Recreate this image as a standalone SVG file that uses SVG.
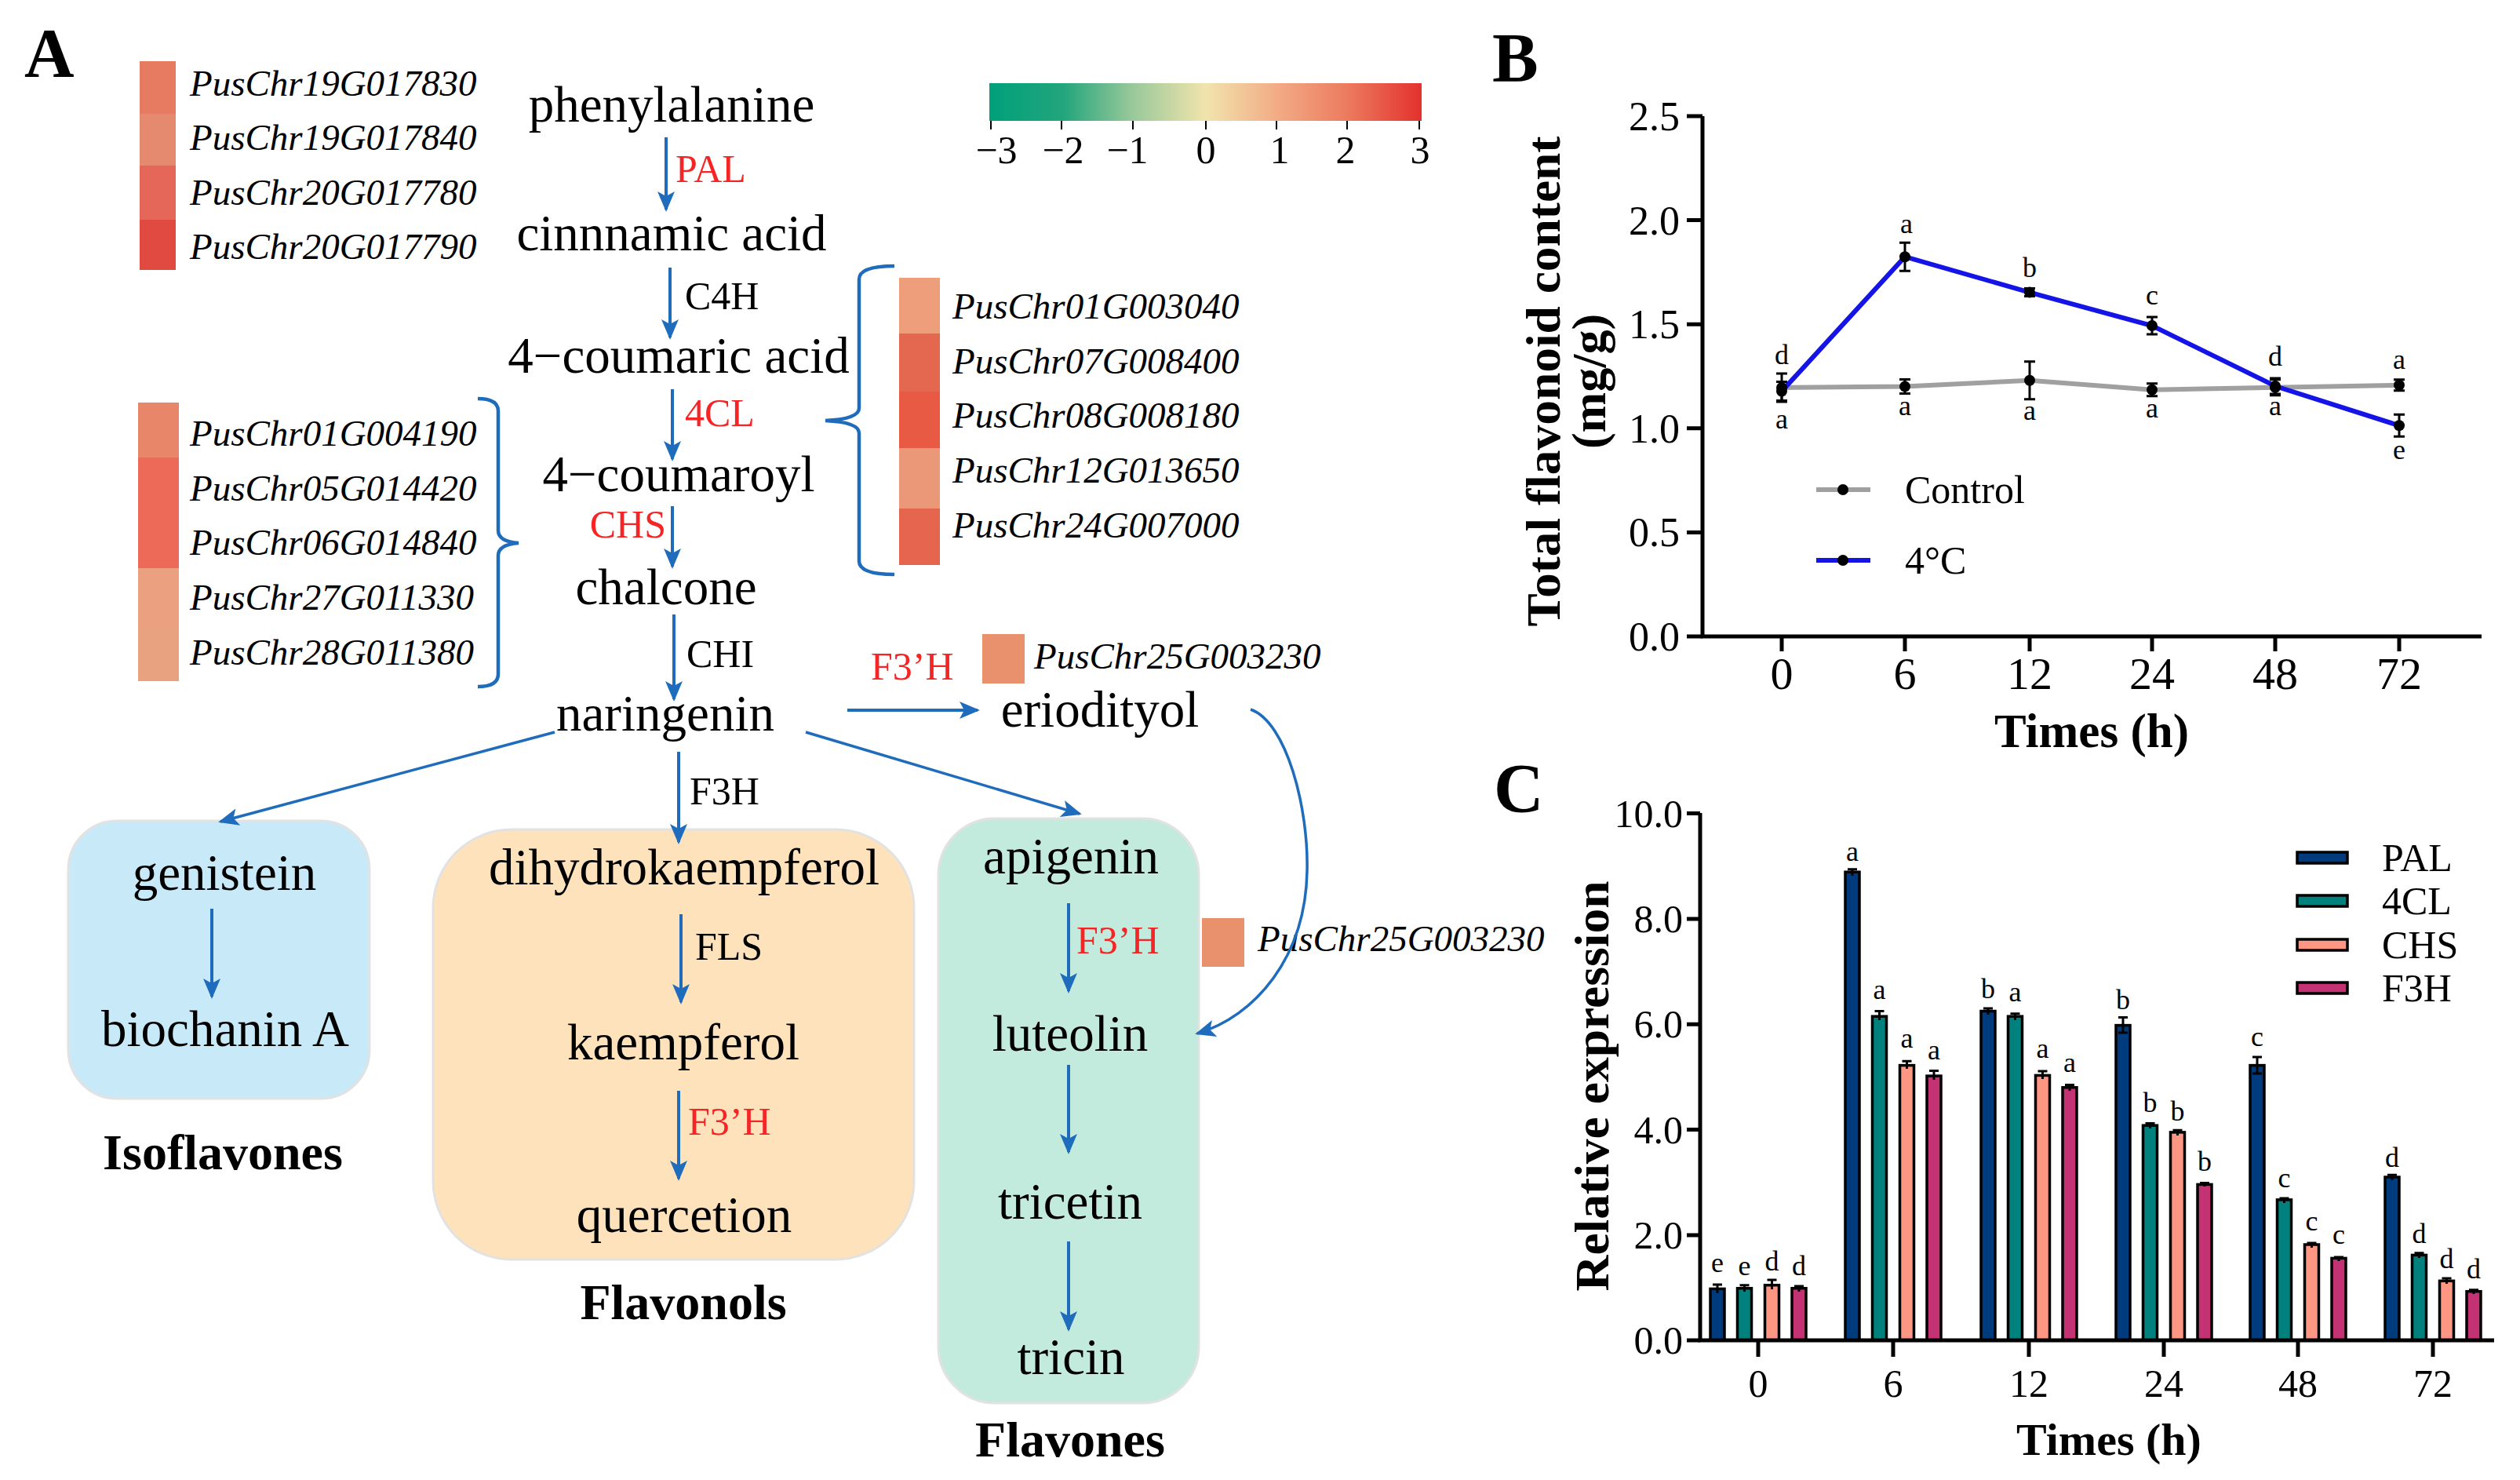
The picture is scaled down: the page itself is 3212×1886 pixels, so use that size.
<svg xmlns="http://www.w3.org/2000/svg" width="3212" height="1886" viewBox="0 0 3212 1886">
<style>
text{font-family:'Liberation Serif','Times New Roman',serif;fill:#000}
.c{font-size:65px;text-anchor:middle}
.e{font-size:50px}
.r{fill:#F52525}
.g{font-size:47px;font-style:italic}
.cat{font-size:64px;font-weight:bold;text-anchor:middle}
.pl{font-size:88px;font-weight:bold}
.tk{font-size:52px}
.tr{text-anchor:end}
.tm{text-anchor:middle}
.lt{font-size:36px;text-anchor:middle}
.ar{stroke:#1F6CBD;stroke-width:4;fill:none;marker-end:url(#ah)}
.ar2{stroke:#1F6CBD;stroke-width:3.5;fill:none;marker-end:url(#ah)}
.br{stroke:#1F6CBD;stroke-width:4.5;fill:none}
.ax{stroke:#000;stroke-width:5;fill:none}
.eb{stroke:#000;stroke-width:3;fill:none}
.bar{stroke:#000;stroke-width:3.5}
.pal{fill:#003C7D}.cl{fill:#00817E}.chs{fill:#FD9682}.f3h{fill:#C33373}
.box{stroke:#E2E2E2;stroke-width:3}
</style>
<defs>
<marker id="ah" markerUnits="userSpaceOnUse" markerWidth="26" markerHeight="24" viewBox="0 0 26 24" refX="23" refY="12" orient="auto">
<path d="M0,1 L26,12 L0,23 L6,12 z" fill="#1F6CBD"/>
</marker>
<linearGradient id="cb" x1="0" x2="1" y1="0" y2="0">
<stop offset="0" stop-color="#00A07A"/>
<stop offset="0.17" stop-color="#22A57C"/>
<stop offset="0.33" stop-color="#98C89A"/>
<stop offset="0.5" stop-color="#F1E4AC"/>
<stop offset="0.67" stop-color="#F2AA85"/>
<stop offset="0.83" stop-color="#EC7A5E"/>
<stop offset="1" stop-color="#E3312E"/>
</linearGradient>
</defs>
<rect width="3212" height="1886" fill="#fff"/>

<!-- Panel labels -->
<text class="pl" x="31" y="97">A</text>
<text class="pl" x="1902" y="103">B</text>
<text class="pl" x="1904" y="1034">C</text>

<!-- Category boxes -->
<g id="box-isoflavones">
<rect class="box" x="87" y="1046" width="384" height="354" rx="62" fill="#C8EAF8"/>
<text class="cat" x="284" y="1490">Isoflavones</text>
</g>
<g id="box-flavonols">
<rect class="box" x="552" y="1057" width="613" height="548" rx="100" fill="#FDE2BB"/>
<text class="cat" x="871" y="1681">Flavonols</text>
</g>
<g id="box-flavones">
<rect class="box" x="1196" y="1043" width="332" height="745" rx="72" fill="#C2EBDD"/>
<text class="cat" x="1364" y="1856">Flavones</text>
</g>

<!-- Colorbar -->
<g id="colorbar">
<rect x="1261" y="106" width="551" height="48" fill="url(#cb)"/>
<path d="M1263,154v11M1353,154v11M1444,154v11M1537,154v11M1627,154v11M1717,154v11M1809,154v11" stroke="#000" stroke-width="2"/>
<text class="e tm" x="1270" y="208">−3</text>
<text class="e tm" x="1355" y="208">−2</text>
<text class="e tm" x="1437" y="208">−1</text>
<text class="e tm" x="1537" y="208">0</text>
<text class="e tm" x="1631" y="208">1</text>
<text class="e tm" x="1715" y="208">2</text>
<text class="e tm" x="1810" y="208">3</text>
</g>

<!-- Heatmaps -->
<g id="heat-pal">
<rect x="178" y="78" width="46" height="67" fill="#E77B62"/>
<rect x="178" y="145" width="46" height="66" fill="#E68A6F"/>
<rect x="178" y="211" width="46" height="69" fill="#E5675A"/>
<rect x="178" y="280" width="46" height="64" fill="#E04A40"/>
<text class="g" x="242" y="122">PusChr19G017830</text>
<text class="g" x="242" y="191">PusChr19G017840</text>
<text class="g" x="242" y="261">PusChr20G017780</text>
<text class="g" x="242" y="330">PusChr20G017790</text>
</g>
<g id="heat-chs">
<rect x="176" y="513" width="52" height="70" fill="#E8866A"/>
<rect x="176" y="583" width="52" height="72" fill="#EE6A58"/>
<rect x="176" y="655" width="52" height="69" fill="#EC6A57"/>
<rect x="176" y="724" width="52" height="74" fill="#EBA07F"/>
<rect x="176" y="798" width="52" height="70" fill="#E9A27F"/>
<text class="g" x="242" y="568">PusChr01G004190</text>
<text class="g" x="242" y="638">PusChr05G014420</text>
<text class="g" x="242" y="707">PusChr06G014840</text>
<text class="g" x="242" y="777">PusChr27G011330</text>
<text class="g" x="242" y="847">PusChr28G011380</text>
</g>
<g id="heat-4cl">
<rect x="1146" y="354" width="52" height="71" fill="#EE9E7A"/>
<rect x="1146" y="425" width="52" height="74" fill="#E4674F"/>
<rect x="1146" y="499" width="52" height="72" fill="#E85A44"/>
<rect x="1146" y="571" width="52" height="77" fill="#EA9878"/>
<rect x="1146" y="648" width="52" height="72" fill="#E5654F"/>
<text class="g" x="1214" y="406">PusChr01G003040</text>
<text class="g" x="1214" y="476">PusChr07G008400</text>
<text class="g" x="1214" y="545">PusChr08G008180</text>
<text class="g" x="1214" y="615">PusChr12G013650</text>
<text class="g" x="1214" y="685">PusChr24G007000</text>
</g>
<g id="heat-f3h1">
<rect x="1252" y="808" width="54" height="63" fill="#E8916C"/>
<text class="g" x="1318" y="852">PusChr25G003230</text>
</g>
<g id="heat-f3h2">
<rect x="1532" y="1170" width="54" height="62" fill="#E8916C"/>
<text class="g" x="1603" y="1212">PusChr25G003230</text>
</g>

<!-- Compound nodes -->
<g id="n-phenylalanine"><text class="c" x="856" y="155">phenylalanine</text></g>
<g id="n-cinnamic"><text class="c" x="856" y="319">cinnnamic acid</text></g>
<g id="n-coumaric"><text class="c" x="865" y="475">4−coumaric acid</text></g>
<g id="n-coumaroyl"><text class="c" x="865" y="626">4−coumaroyl</text></g>
<g id="n-chalcone"><text class="c" x="849" y="770">chalcone</text></g>
<g id="n-naringenin"><text class="c" x="848" y="931">naringenin</text></g>
<g id="n-eriodityol"><text class="c" x="1402" y="926">eriodityol</text></g>
<g id="n-genistein"><text class="c" x="286" y="1134">genistein</text></g>
<g id="n-biochanin"><text class="c" x="287" y="1333">biochanin A</text></g>
<g id="n-dihydrokaempferol"><text class="c" x="872" y="1127">dihydrokaempferol</text></g>
<g id="n-kaempferol"><text class="c" x="871" y="1350">kaempferol</text></g>
<g id="n-quercetion"><text class="c" x="872" y="1570">quercetion</text></g>
<g id="n-apigenin"><text class="c" x="1365" y="1113">apigenin</text></g>
<g id="n-luteolin"><text class="c" x="1364" y="1339">luteolin</text></g>
<g id="n-tricetin"><text class="c" x="1364" y="1553">tricetin</text></g>
<g id="n-tricin"><text class="c" x="1365" y="1751">tricin</text></g>

<!-- Connectors -->
<g id="connectors">
<path class="ar" d="M849,175V267"/>
<path class="ar" d="M854,341V430"/>
<path class="ar" d="M857,496V585"/>
<path class="ar" d="M857,645V722"/>
<path class="ar" d="M859,783V891"/>
<path class="ar" d="M865,958V1073"/>
<path class="ar2" d="M707,933L281,1047"/>
<path class="ar2" d="M1027,933L1376,1037"/>
<path class="ar" d="M1080,905H1246"/>
<path class="ar2" d="M1594,904C1640,920 1668,1030 1666,1110C1664,1220 1600,1295 1526,1317" stroke-width="3"/>
<path class="ar" d="M270,1158V1270"/>
<path class="ar" d="M868,1165V1277"/>
<path class="ar" d="M865,1390V1502"/>
<path class="ar" d="M1362,1151V1263"/>
<path class="ar" d="M1362,1357V1468"/>
<path class="ar" d="M1362,1582V1694"/>
<path class="br" d="M609,508Q635,508 635,524L635,676Q635,690 661,692Q635,694 635,708L635,859Q635,875 609,875"/>
<path class="br" d="M1140,339Q1095,339 1095,356L1095,520Q1095,534 1052,536Q1095,538 1095,552L1095,715Q1095,732 1140,732"/>
</g>

<!-- Enzyme labels -->
<g id="enzymes">
<text class="e r" x="861" y="232">PAL</text>
<text class="e" x="873" y="394">C4H</text>
<text class="e r" x="873" y="543">4CL</text>
<text class="e r tr" x="849" y="685">CHS</text>
<text class="e" x="875" y="850">CHI</text>
<text class="e" x="879" y="1025">F3H</text>
<text class="e r" x="1110" y="866">F3’H</text>
<text class="e" x="886" y="1223">FLS</text>
<text class="e r" x="877" y="1446">F3’H</text>
<text class="e r" x="1372" y="1215">F3’H</text>
</g>

<!-- Chart B -->
<g id="chart-b">
<path class="ax" d="M2170,148V811H3163"/>
<path class="ax" d="M2150,148H2170M2150,280.6H2170M2150,413.2H2170M2150,545.8H2170M2150,678.4H2170M2150,811H2170"/>
<path class="ax" d="M2271,811v19M2428,811v19M2587,811v19M2743,811v19M2900,811v19M3058,811v19"/>
<text class="tk tr" x="2141" y="166">2.5</text>
<text class="tk tr" x="2141" y="299">2.0</text>
<text class="tk tr" x="2141" y="431">1.5</text>
<text class="tk tr" x="2141" y="564">1.0</text>
<text class="tk tr" x="2141" y="696">0.5</text>
<text class="tk tr" x="2141" y="829">0.0</text>
<g font-size="58" text-anchor="middle">
<text x="2271" y="878">0</text><text x="2428" y="878">6</text><text x="2587" y="878">12</text><text x="2743" y="878">24</text><text x="2900" y="878">48</text><text x="3058" y="878">72</text>
</g>
<text x="2666" y="952" font-size="61" font-weight="bold" text-anchor="middle">Times (h)</text>
<text transform="rotate(-90 1988 486)" x="1988" y="486" font-size="62" font-weight="bold" text-anchor="middle" textLength="625" lengthAdjust="spacingAndGlyphs">Total flavonoid content</text>
<text transform="rotate(-90 2046 486)" x="2046" y="486" font-size="62" font-weight="bold" text-anchor="middle">(mg/g)</text>
<polyline points="2271,494 2428,492.6 2587,484.7 2743,496.8 2900,493.8 3058,490.8" fill="none" stroke="#A0A0A0" stroke-width="6"/>
<polyline points="2271,498.6 2428,327.2 2587,372.6 2743,415 2900,492 3058,542.3" fill="none" stroke="#1414E6" stroke-width="6"/>
<path class="eb" d="M2271,476V512M2264,476h14M2264,512h14M2428,483.6V501.6M2421,483.6h14M2421,501.6h14M2587,460.7V508.7M2580,460.7h14M2580,508.7h14M2743,488.8V504.8M2736,488.8h14M2736,504.8h14M2900,483.8V503.8M2893,483.8h14M2893,503.8h14M3058,483.8V497.8M3051,483.8h14M3051,497.8h14"/>
<path class="eb" d="M2271,486.6V510.6M2264,486.6h14M2264,510.6h14M2428,309.2V345.2M2421,309.2h14M2421,345.2h14M2587,367.6V377.6M2580,367.6h14M2580,377.6h14M2743,404V426M2736,404h14M2736,426h14M2900,482V502M2893,482h14M2893,502h14M3058,528.3V556.3M3051,528.3h14M3051,556.3h14"/>
<g fill="#000">
<circle cx="2271" cy="494" r="7"/><circle cx="2428" cy="492.6" r="7"/><circle cx="2587" cy="484.7" r="7"/><circle cx="2743" cy="496.8" r="7"/><circle cx="2900" cy="493.8" r="7"/><circle cx="3058" cy="490.8" r="7"/>
<circle cx="2271" cy="498.6" r="7"/><circle cx="2428" cy="327.2" r="7"/><circle cx="2587" cy="372.6" r="7"/><circle cx="2743" cy="415" r="7"/><circle cx="2900" cy="492" r="7"/><circle cx="3058" cy="542.3" r="7"/>
</g>
<text class="lt" x="2271" y="464">d</text><text class="lt" x="2430" y="297">a</text><text class="lt" x="2587" y="353">b</text><text class="lt" x="2743" y="388">c</text><text class="lt" x="2900" y="466">d</text><text class="lt" x="3058" y="470">a</text>
<text class="lt" x="2271" y="546">a</text><text class="lt" x="2428" y="529">a</text><text class="lt" x="2587" y="535">a</text><text class="lt" x="2743" y="532">a</text><text class="lt" x="2900" y="529">a</text><text class="lt" x="3058" y="585">e</text>
<path d="M2315,624H2384" stroke="#A0A0A0" stroke-width="6"/><circle cx="2349" cy="624" r="7"/>
<path d="M2315,714H2384" stroke="#1414E6" stroke-width="6"/><circle cx="2349" cy="714" r="7"/>
<text x="2428" y="641" font-size="50">Control</text>
<text x="2428" y="731" font-size="50">4°C</text>
</g>

<!-- Chart C -->
<g id="chart-c">
<g class="bar">
<rect class="pal" x="2180" y="1642.4" width="18" height="65.6"/><rect class="cl" x="2214.5" y="1641.7" width="18" height="66.3"/><rect class="chs" x="2249.5" y="1637.7" width="18" height="70.3"/><rect class="f3h" x="2284" y="1641.7" width="18" height="66.3"/>
<rect class="pal" x="2352" y="1111.2" width="18" height="596.8"/><rect class="cl" x="2386.5" y="1295.2" width="18" height="412.8"/><rect class="chs" x="2421.5" y="1357.6" width="18" height="350.4"/><rect class="f3h" x="2456" y="1371.1" width="18" height="336.9"/>
<rect class="pal" x="2525" y="1288.5" width="18" height="419.5"/><rect class="cl" x="2559.5" y="1295.2" width="18" height="412.8"/><rect class="chs" x="2594.5" y="1370.4" width="18" height="337.6"/><rect class="f3h" x="2629" y="1385.8" width="18" height="322.2"/>
<rect class="pal" x="2697" y="1306.6" width="18" height="401.4"/><rect class="cl" x="2731.5" y="1434.2" width="18" height="273.8"/><rect class="chs" x="2766.5" y="1442.9" width="18" height="265.1"/><rect class="f3h" x="2801" y="1509.4" width="18" height="198.6"/>
<rect class="pal" x="2868" y="1357.6" width="18" height="350.4"/><rect class="cl" x="2902.5" y="1528.9" width="18" height="179.1"/><rect class="chs" x="2937.5" y="1586" width="18" height="122"/><rect class="f3h" x="2972" y="1603.4" width="18" height="104.6"/>
<rect class="pal" x="3040" y="1500" width="18" height="208"/><rect class="cl" x="3074.5" y="1599.4" width="18" height="108.6"/><rect class="chs" x="3109.5" y="1632.3" width="18" height="75.7"/><rect class="f3h" x="3144" y="1645.7" width="18" height="62.3"/>
</g>
<path class="eb" stroke-width="3.5" d="M2189,1648V1637M2183,1637h12M2223.5,1646V1637.7M2217.5,1637.7h12M2258.5,1643V1631M2252.5,1631h12M2293,1646V1639M2287,1639h12
M2361,1116V1107.8M2355,1107.8h12M2395.5,1300V1288.5M2389.5,1288.5h12M2430.5,1362V1352.2M2424.5,1352.2h12M2465,1376V1364.4M2459,1364.4h12
M2534,1293V1285.1M2528,1285.1h12M2568.5,1300V1291.8M2562.5,1291.8h12M2603.5,1375V1365M2597.5,1365h12M2638,1390V1382.4M2632,1382.4h12
M2706,1316V1296.6M2700,1296.6h12M2700,1316h12M2740.5,1438V1431.5M2734.5,1431.5h12M2775.5,1447V1440.2M2769.5,1440.2h12M2810,1512V1507.4M2804,1507.4h12
M2877,1368V1346.9M2871,1346.9h12M2871,1368h12M2911.5,1533V1526.9M2905.5,1526.9h12M2946.5,1590V1584M2940.5,1584h12M2981,1607V1602.1M2975,1602.1h12
M3049,1504V1497.3M3043,1497.3h12M3083.5,1603V1596.7M3077.5,1596.7h12M3118.5,1636V1628.9M3112.5,1628.9h12M3153,1649V1643.7M3147,1643.7h12"/>
<path class="ax" stroke-width="6" d="M2167,1036V1708H3179"/>
<path class="ax" stroke-width="5" d="M2150,1036.6H2167M2150,1170.9H2167M2150,1305.2H2167M2150,1439.6H2167M2150,1573.9H2167M2150,1708H2167"/>
<path class="ax" stroke-width="5" d="M2241,1708v21M2413,1708v21M2586,1708v21M2758,1708v21M2929,1708v21M3101,1708v21"/>
<g font-size="50" text-anchor="end">
<text x="2145" y="1054">10.0</text><text x="2145" y="1188">8.0</text><text x="2145" y="1322">6.0</text><text x="2145" y="1457">4.0</text><text x="2145" y="1591">2.0</text><text x="2145" y="1725">0.0</text>
</g>
<g font-size="50" text-anchor="middle">
<text x="2241" y="1780">0</text><text x="2413" y="1780">6</text><text x="2586" y="1780">12</text><text x="2758" y="1780">24</text><text x="2929" y="1780">48</text><text x="3101" y="1780">72</text>
</g>
<text x="2688" y="1854" font-size="58" font-weight="bold" text-anchor="middle">Times (h)</text>
<text transform="rotate(-90 2050 1384)" x="2050" y="1384" font-size="62" font-weight="bold" text-anchor="middle" textLength="523" lengthAdjust="spacingAndGlyphs">Relative expression</text>
<text class="lt" x="2189" y="1621">e</text><text class="lt" x="2223.5" y="1625">e</text><text class="lt" x="2258.5" y="1619">d</text><text class="lt" x="2293" y="1625">d</text>
<text class="lt" x="2361" y="1097">a</text><text class="lt" x="2395.5" y="1273">a</text><text class="lt" x="2430.5" y="1335">a</text><text class="lt" x="2465" y="1350">a</text>
<text class="lt" x="2534" y="1272">b</text><text class="lt" x="2568.5" y="1276">a</text><text class="lt" x="2603.5" y="1348">a</text><text class="lt" x="2638" y="1366">a</text>
<text class="lt" x="2706" y="1286">b</text><text class="lt" x="2740.5" y="1417">b</text><text class="lt" x="2775.5" y="1428">b</text><text class="lt" x="2810" y="1492">b</text>
<text class="lt" x="2877" y="1333">c</text><text class="lt" x="2911.5" y="1513">c</text><text class="lt" x="2946.5" y="1568">c</text><text class="lt" x="2981" y="1585">c</text>
<text class="lt" x="3049" y="1487">d</text><text class="lt" x="3083.5" y="1584">d</text><text class="lt" x="3118.5" y="1616">d</text><text class="lt" x="3153" y="1629">d</text>
<g class="bar">
<rect class="pal" x="2928" y="1086" width="64" height="14"/>
<rect class="cl" x="2928" y="1141" width="64" height="14"/>
<rect class="chs" x="2928" y="1197" width="64" height="14"/>
<rect class="f3h" x="2928" y="1252" width="64" height="14"/>
</g>
<g font-size="50">
<text x="3036" y="1110">PAL</text><text x="3036" y="1165">4CL</text><text x="3036" y="1221">CHS</text><text x="3036" y="1276">F3H</text>
</g>
</g>
</svg>
